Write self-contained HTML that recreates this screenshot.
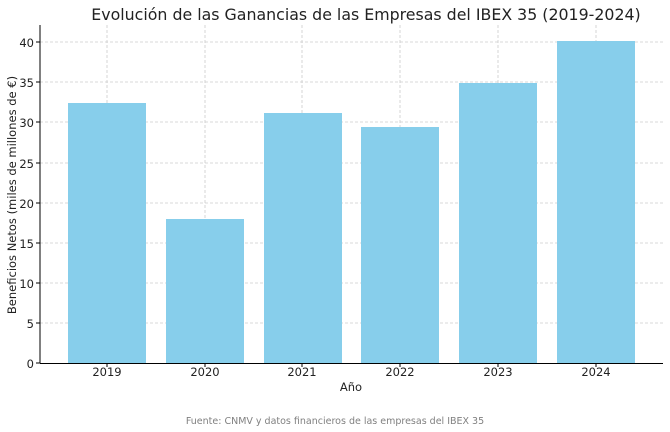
<!DOCTYPE html>
<html><head><meta charset="utf-8"><style>body{margin:0;background:#fff}svg{display:block}</style></head><body>
<svg width="670" height="432" xmlns="http://www.w3.org/2000/svg" font-family="DejaVu Sans, Liberation Sans, sans-serif">
<rect width="670" height="432" fill="#fff"/>
<g stroke="#cccccc" stroke-width="0.8" stroke-dasharray="3,2">
<line x1="40" x2="663" y1="323" y2="323"/><line x1="40" x2="663" y1="283" y2="283"/>
<line x1="40" x2="663" y1="243" y2="243"/><line x1="40" x2="663" y1="203" y2="203"/>
<line x1="40" x2="663" y1="163" y2="163"/><line x1="40" x2="663" y1="122" y2="122"/>
<line x1="40" x2="663" y1="82" y2="82"/><line x1="40" x2="663" y1="42" y2="42"/>
<line x1="107" x2="107" y1="25" y2="363"/><line x1="205" x2="205" y1="25" y2="363"/>
<line x1="302" x2="302" y1="25" y2="363"/><line x1="400" x2="400" y1="25" y2="363"/>
<line x1="498" x2="498" y1="25" y2="363"/><line x1="596" x2="596" y1="25" y2="363"/>
</g>
<g fill="#87ceeb">
<rect x="68" y="103" width="78" height="260"/>
<rect x="166" y="219" width="78" height="144"/>
<rect x="264" y="113" width="78" height="250"/>
<rect x="361" y="127" width="78" height="236"/>
<rect x="459" y="83" width="78" height="280"/>
<rect x="557" y="41" width="78" height="322"/>
</g>
<g stroke="#000" stroke-width="1"><line x1="40" y1="25" x2="40" y2="363.5"/><line x1="40" y1="363.5" x2="663" y2="363.5"/>
<line x1="36" x2="40" y1="363" y2="363"/><line x1="36" x2="40" y1="323" y2="323"/><line x1="36" x2="40" y1="283" y2="283"/><line x1="36" x2="40" y1="243" y2="243"/><line x1="36" x2="40" y1="203" y2="203"/><line x1="36" x2="40" y1="163" y2="163"/><line x1="36" x2="40" y1="122" y2="122"/><line x1="36" x2="40" y1="82" y2="82"/><line x1="36" x2="40" y1="42" y2="42"/>
<line y1="363" y2="367" x1="107" x2="107"/><line y1="363" y2="367" x1="205" x2="205"/><line y1="363" y2="367" x1="302" x2="302"/><line y1="363" y2="367" x1="400" x2="400"/><line y1="363" y2="367" x1="498" x2="498"/><line y1="363" y2="367" x1="596" x2="596"/>
</g>
<g font-size="11.5" fill="#222" text-anchor="end">
<text x="34" y="368">0</text><text x="34" y="328">5</text><text x="34" y="288">10</text><text x="34" y="248">15</text><text x="34" y="208">20</text><text x="34" y="168">25</text><text x="34" y="127">30</text><text x="34" y="87">35</text><text x="34" y="47">40</text>
</g>
<g font-size="11.5" fill="#222" text-anchor="middle">
<text x="107" y="376">2019</text><text x="205" y="376">2020</text><text x="302" y="376">2021</text><text x="400" y="376">2022</text><text x="498" y="376">2023</text><text x="596" y="376">2024</text>
<text x="351" y="391">Año</text>
<text x="366" y="20" font-size="15.8">Evolución de las Ganancias de las Empresas del IBEX 35 (2019-2024)</text>
<text x="335" y="424" font-size="9.5" fill="#808080">Fuente: CNMV y datos financieros de las empresas del IBEX 35</text>
<text transform="translate(16,195) rotate(-90)">Beneficios Netos (miles de millones de €)</text>
</g>
</svg>
</body></html>
